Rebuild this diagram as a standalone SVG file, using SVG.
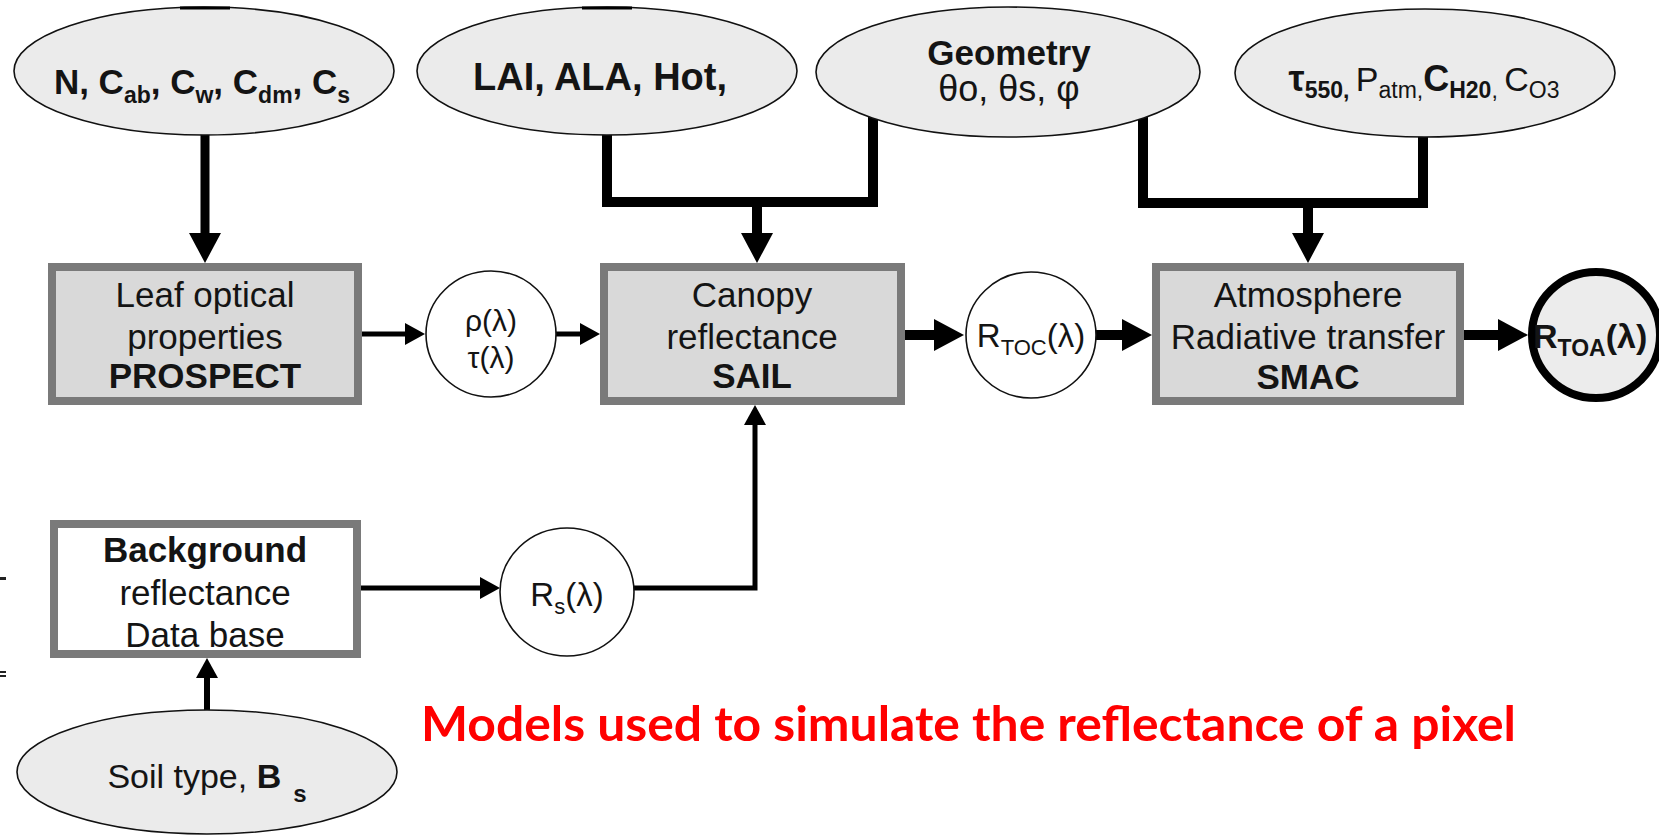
<svg xmlns="http://www.w3.org/2000/svg" width="1659" height="837" viewBox="0 0 1659 837">
  <defs>
    <style>
      .ell { fill: #ebebeb; stroke: #111; stroke-width: 1.6; }
      .box { fill: #d9d9d9; stroke: #7a7a7a; stroke-width: 8; }
      .boxw { fill: #ffffff; stroke: #7a7a7a; stroke-width: 8; }
      .circ { fill: #ffffff; stroke: #111; stroke-width: 1.6; }
      .circb { fill: #ececec; stroke: #000; stroke-width: 8; }
      .t { font-family: "Liberation Sans", Arial, Helvetica, sans-serif; font-size: 35px; fill: #141414; text-anchor: middle; }
      .b { font-weight: bold; }
      .e { font-family: "Liberation Sans", Arial, Helvetica, sans-serif; font-size: 35px; font-weight: bold; fill: #141414; text-anchor: middle; }
      .sub { font-size: 23px; }
      .c { font-family: "Liberation Sans", Arial, Helvetica, sans-serif; font-size: 33px; fill: #141414; }
      .wire { fill: none; stroke: #000; stroke-linejoin: miter; stroke-linecap: butt; }
      .note { font-family: Lato, "Open Sans", sans-serif; font-weight: bold; font-size: 47px; fill: #ff0000; }
      .speck { fill: #222; }
    </style>
    <marker id="ah-big" markerUnits="userSpaceOnUse" markerWidth="30" markerHeight="32" viewBox="0 0 30 32" refX="0" refY="16" orient="auto">
      <path d="M0,0 L30,16 L0,32 z" fill="#000"/>
    </marker>
    <marker id="ah-small" markerUnits="userSpaceOnUse" markerWidth="20" markerHeight="22" viewBox="0 0 20 22" refX="0" refY="11" orient="auto">
      <path d="M0,0 L20,11 L0,22 z" fill="#000"/>
    </marker>
  </defs>

  <rect x="0" y="0" width="1659" height="837" fill="#ffffff"/>

  <!-- connectors -->
  <g id="connectors">
    <path class="wire" stroke-width="9" d="M205,130 V233" marker-end="url(#ah-big)"/>
    <path class="wire" stroke-width="10" d="M607,128 V202 H873 V110"/>
    <path class="wire" stroke-width="10" d="M757,202 V233" marker-end="url(#ah-big)"/>
    <path class="wire" stroke-width="10" d="M1143,110 V203 H1423 V128"/>
    <path class="wire" stroke-width="10" d="M1308,203 V233" marker-end="url(#ah-big)"/>
    <path class="wire" stroke-width="5" d="M362,334 H405" marker-end="url(#ah-small)"/>
    <path class="wire" stroke-width="5" d="M556,334 H580" marker-end="url(#ah-small)"/>
    <path class="wire" stroke-width="10" d="M905,335 H934" marker-end="url(#ah-big)"/>
    <path class="wire" stroke-width="10" d="M1096,335 H1122" marker-end="url(#ah-big)"/>
    <path class="wire" stroke-width="10" d="M1464,335 H1498" marker-end="url(#ah-big)"/>
    <path class="wire" stroke-width="5" d="M361,588 H480" marker-end="url(#ah-small)"/>
    <path class="wire" stroke-width="5" d="M634,588 H755 V425" marker-end="url(#ah-small)"/>
    <path class="wire" stroke-width="6" d="M207,712 V678" marker-end="url(#ah-small)"/>
  </g>

  <!-- input parameter ellipses -->
  <g id="leaf-params">
    <ellipse class="ell" cx="204" cy="71" rx="190" ry="64"/>
    <path class="wire" stroke-width="3" d="M180,8 H230"/>
    <text class="e" x="202" y="94">N, C<tspan class="sub" dy="9">ab</tspan><tspan dy="-9">, C</tspan><tspan class="sub" dy="9">w</tspan><tspan dy="-9">, C</tspan><tspan class="sub" dy="9">dm</tspan><tspan dy="-9">, C</tspan><tspan class="sub" dy="9">s</tspan></text>
  </g>
  <g id="canopy-params">
    <ellipse class="ell" cx="607" cy="71" rx="190" ry="64"/>
    <path class="wire" stroke-width="3" d="M582,8 H632"/>
    <text class="e" x="600" y="90" style="font-size:38px">LAI, ALA, Hot,</text>
  </g>
  <g id="geometry">
    <ellipse class="ell" cx="1008" cy="72" rx="192" ry="65"/>
    <text class="e" x="1009" y="65">Geometry</text>
    <text class="t" x="1009" y="101" style="font-size:36px">θo, θs, φ</text>
  </g>
  <g id="atmo-params">
    <ellipse class="ell" cx="1425" cy="73" rx="190" ry="64"/>
    <text class="t" x="1424" y="91" style="font-size:34px"><tspan class="b" style="font-size:36px">τ</tspan><tspan class="b" style="font-size:23px" dy="7">550</tspan><tspan class="b" style="font-size:23px">, </tspan><tspan dy="-7">P</tspan><tspan style="font-size:23px" dy="7">atm</tspan><tspan style="font-size:23px">,</tspan><tspan class="b" dy="-7" style="font-size:36px">C</tspan><tspan class="b" style="font-size:23px" dy="7">H20</tspan><tspan style="font-size:23px">, </tspan><tspan dy="-7"> C</tspan><tspan style="font-size:23px" dy="7">O3</tspan></text>
  </g>
  <g id="soil-type">
    <ellipse class="ell" cx="207" cy="772" rx="190" ry="62"/>
    <text class="t" x="207" y="788" style="font-size:34px">Soil type, <tspan class="b">B</tspan><tspan class="b" style="font-size:24px" dx="12" dy="14">s</tspan></text>
  </g>

  <!-- model boxes -->
  <g id="prospect">
    <rect class="box" x="52" y="267" width="306" height="134"/>
    <text class="t" x="205" y="307">Leaf optical</text>
    <text class="t" x="205" y="349">properties</text>
    <text class="t b" x="205" y="388">PROSPECT</text>
  </g>
  <g id="sail">
    <rect class="box" x="604" y="267" width="297" height="134"/>
    <text class="t" x="752" y="307">Canopy</text>
    <text class="t" x="752" y="349">reflectance</text>
    <text class="t b" x="752" y="388">SAIL</text>
  </g>
  <g id="smac">
    <rect class="box" x="1156" y="267" width="304" height="134"/>
    <text class="t" x="1308" y="307">Atmosphere</text>
    <text class="t" x="1308" y="349">Radiative transfer</text>
    <text class="t b" x="1308" y="389">SMAC</text>
  </g>
  <g id="background">
    <rect class="boxw" x="54" y="524" width="303" height="130"/>
    <text class="t b" x="205" y="562">Background</text>
    <text class="t" x="205" y="605">reflectance</text>
    <text class="t" x="205" y="647">Data base</text>
  </g>

  <!-- intermediate quantities -->
  <g id="leaf-rt">
    <ellipse class="circ" cx="491" cy="334" rx="65" ry="63"/>
    <text class="c" x="491" y="331" text-anchor="middle" style="font-size:30px">ρ(λ)</text>
    <text class="c" x="491" y="368" text-anchor="middle" style="font-size:30px">τ(λ)</text>
  </g>
  <g id="r-toc">
    <ellipse class="circ" cx="1031" cy="335" rx="65" ry="63"/>
    <text class="c" x="1031" y="347" text-anchor="middle">R<tspan style="font-size:22px" dy="8">TOC</tspan><tspan dy="-8">(λ)</tspan></text>
  </g>
  <g id="r-soil">
    <ellipse class="circ" cx="567" cy="592" rx="67" ry="64"/>
    <text class="c" x="567" y="606" text-anchor="middle">R<tspan style="font-size:22px" dy="8">s</tspan><tspan dy="-8">(λ)</tspan></text>
  </g>
  <g id="r-toa">
    <ellipse class="circb" cx="1596" cy="335" rx="64" ry="63"/>
    <text class="c" x="1533" y="348" style="font-weight:bold;font-size:34px">R<tspan style="font-size:23px" dy="8">TOA</tspan><tspan dy="-8">(λ)</tspan></text>
  </g>

  <!-- stray marks along the left margin -->
  <rect class="speck" x="0" y="577" width="6" height="3"/>
  <rect class="speck" x="0" y="671" width="6" height="2"/>
  <rect class="speck" x="0" y="675" width="6" height="2"/>

  <!-- caption -->
  <text class="note" x="421" y="741" textLength="1095" lengthAdjust="spacingAndGlyphs">Models used to simulate the reflectance of a pixel</text>
</svg>
